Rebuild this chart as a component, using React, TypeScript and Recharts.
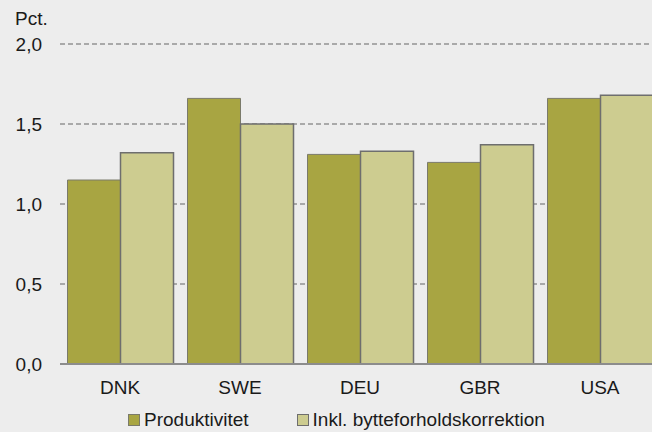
import { BarChart, Bar, XAxis, YAxis, CartesianGrid } from "recharts";

const countries = ["DNK", "SWE", "DEU", "GBR", "USA"];
const produktivitet = [1.15, 1.66, 1.31, 1.26, 1.66];
const bytteforhold = [1.32, 1.5, 1.33, 1.37, 1.68];
const yTicks = [0, 0.5, 1, 1.5, 2];

const data = countries.map((c, i) => ({
  country: c,
  prod: produktivitet[i],
  inkl: bytteforhold[i],
}));

const font = "'Liberation Sans', Arial, sans-serif";
const olive = "#a8a542";
const light = "#cdcc90";

const fmt = (v: number) => v.toFixed(1).replace(".", ",");

const App = () => {
  return (
    <div
      style={{
        position: "fixed",
        top: 0,
        left: 0,
        width: 652,
        height: 432,
        overflow: "hidden",
        background: "#ededed",
        fontFamily: font,
        color: "#1a1a1a",
      }}
    >
      <div style={{ position: "absolute", left: 15, top: 9, fontSize: 19, lineHeight: "19px" }}>Pct.</div>
      <BarChart
        width={670}
        height={432}
        data={data}
        margin={{ top: 44, right: 10, bottom: 38, left: 0 }}
        barCategoryGap="6.25%"
        barGap={0}
      >
        <CartesianGrid vertical={false} stroke="#929292" strokeWidth={1.5} strokeDasharray="5 3" />
        <YAxis
          width={60}
          domain={[0, 2]}
          ticks={yTicks}
          tickFormatter={fmt}
          axisLine={false}
          tickLine={false}
          tickMargin={12}
          tick={{ fill: "#1a1a1a", fontSize: 19, fontFamily: font }}
        />
        <XAxis
          dataKey="country"
          height={30}
          axisLine={{ stroke: "#8c8c8c", strokeWidth: 2 }}
          tickLine={false}
          tickMargin={11}
          tick={{ fill: "#1a1a1a", fontSize: 19, fontFamily: font }}
        />
        <Bar dataKey="prod" fill={olive} stroke="#7a7a6a" strokeWidth={1} isAnimationActive={false} />
        <Bar dataKey="inkl" fill={light} stroke="#6e6e6e" strokeWidth={1.5} isAnimationActive={false} />
      </BarChart>
      <div
        style={{
          position: "absolute",
          top: 410,
          left: 128,
          display: "flex",
          alignItems: "center",
          fontSize: 19,
          lineHeight: "19px",
          whiteSpace: "nowrap",
        }}
      >
        <span style={{ width: 10, height: 10, background: olive, border: "1px solid #7a7a6a", marginRight: 4 }} />
        <span style={{ marginRight: 48 }}>Produktivitet</span>
        <span style={{ width: 10, height: 10, background: light, border: "1px solid #6e6e6e", marginRight: 4 }} />
        <span>Inkl. bytteforholdskorrektion</span>
      </div>
    </div>
  );
};

export default App;
